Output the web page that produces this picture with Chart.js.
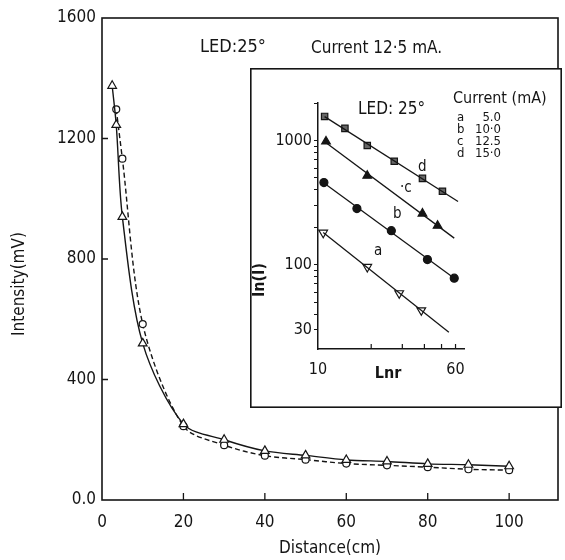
<!DOCTYPE html>
<html>
<head>
<meta charset="utf-8">
<script src="https://cdn.jsdelivr.net/npm/chart.js@4.4.1/dist/chart.umd.min.js"></script>
<style>
  body { margin: 0; background: #fff; }
  #wrap { position: relative; width: 565px; height: 560px; overflow: hidden; }
  #main { position: absolute; left: 0; top: 0; }
  #inset { position: absolute; left: 250px; top: 68px; background: #fff; }
</style>
</head>
<body>
<div id="wrap">
  <canvas id="main" width="565" height="560"></canvas>
  <canvas id="inset" width="312" height="340"></canvas>
</div>
<script>
// main plot: intensity vs distance (LED 25 deg, 12.5 mA)
const triDist = [2.5, 3.5, 5, 10, 20, 30, 40, 50, 60, 70, 80, 90, 100];
const triVal  = [1375, 1245, 940, 520, 252, 200, 163, 148, 133, 128, 120, 117, 112];
const circDist = [3.5, 5, 10, 20, 30, 40, 50, 60, 70, 80, 90, 100];
const circVal  = [1297, 1133, 584, 245, 182, 147, 134, 121, 115, 109, 102, 99];
const xTicks = [0, 20, 40, 60, 80, 100];
const yTicks = [0, 400, 800, 1200, 1600];
const yTickLabels = ['0.0', '400', '800', '1200', '1600'];

// inset: log-log, one series per current
const rA = [10.7, 19.0, 28.8, 38.4];        const iA = [181, 96, 59, 43];
const rB = [10.8, 16.6, 26.0, 41.6, 59.0];  const iB = [458, 283, 188, 110, 78];
const rC = [11.1, 19.0, 39.0, 47.5];        const iC = [980, 520, 258, 206];
const rD = [10.9, 14.2, 19.0, 27.0, 39.0, 50.6]; const iD = [1560, 1250, 910, 680, 495, 390];
const fitEnd = [55, 59, 59, 62]; // a, b, c, d
const currents = [['a', '5.0'], ['b', '10·0'], ['c', '12.5'], ['d', '15·0']];
const insetXTicks = [10, 20, 30, 40, 50, 60];
const insetXLabels = [10, 60];
const insetYTicks = [30, 40, 50, 60, 70, 80, 90, 100, 200, 300, 400, 500, 600, 700, 800, 900, 1000, 2000];
const insetYLabels = [30, 100, 1000];

const FONT = "'DejaVu Sans Condensed', 'DejaVu Sans', sans-serif";
const INK = '#151515';
Chart.defaults.font.family = FONT;
Chart.defaults.color = INK;

const pts = (xs, ys) => xs.map((x, i) => ({ x: x, y: ys[i] }));

function fitLine(rs, is, rEnd) {
  const lx = rs.map(Math.log10), ly = is.map(Math.log10);
  const mx = lx.reduce((a, b) => a + b) / lx.length;
  const my = ly.reduce((a, b) => a + b) / ly.length;
  let sxy = 0, sxx = 0;
  lx.forEach((v, i) => { sxy += (v - mx) * (ly[i] - my); sxx += (v - mx) * (v - mx); });
  const m = sxy / sxx, b = my - m * mx;
  const at = r => Math.pow(10, b + m * Math.log10(r));
  return [{ x: rs[0], y: at(rs[0]) }, { x: rEnd, y: at(rEnd) }];
}

function txt(ctx, s, x, y, size, align, weight) {
  ctx.save();
  ctx.fillStyle = INK;
  ctx.font = (weight || '') + ' ' + size + 'px ' + FONT;
  ctx.textAlign = align || 'left';
  ctx.textBaseline = 'middle';
  ctx.fillText(s, x, y);
  ctx.restore();
}

function vtxt(ctx, s, x, y, size, weight) {
  ctx.save();
  ctx.translate(x, y);
  ctx.rotate(-Math.PI / 2);
  txt(ctx, s, 0, 0, size, 'center', weight);
  ctx.restore();
}

// frame, inward ticks and labels for the main plot
const mainDeco = {
  id: 'mainDeco',
  afterDraw(chart) {
    const { ctx, chartArea: a, scales: { x, y } } = chart;
    ctx.save();
    ctx.strokeStyle = INK;
    ctx.lineWidth = 1.6;
    ctx.strokeRect(a.left, a.top, a.right - a.left, a.bottom - a.top);
    ctx.lineWidth = 1.3;
    ctx.beginPath();
    xTicks.slice(1).forEach(v => {
      const px = x.getPixelForValue(v);
      ctx.moveTo(px, a.bottom); ctx.lineTo(px, a.bottom - 7);
    });
    yTicks.slice(1, -1).forEach(v => {
      const py = y.getPixelForValue(v);
      ctx.moveTo(a.left, py); ctx.lineTo(a.left + 6, py);
    });
    ctx.stroke();
    ctx.restore();
    txt(ctx, 'LED:25°', 200, 47, 18);
    txt(ctx, 'Current 12·5 mA.', 311, 49, 17);
    txt(ctx, 'Distance(cm)', (a.left + a.right) / 2, 549, 17, 'center');
    vtxt(ctx, 'Intensity(mV)', 20, 284, 17);
  }
};

const lineStyle = {
  showLine: true,
  borderColor: INK,
  borderWidth: 1.4,
  tension: 0.3,
  pointBackgroundColor: '#fff',
  pointBorderColor: INK,
  pointBorderWidth: 1.2
};

new Chart(document.getElementById('main'), {
  type: 'scatter',
  data: {
    datasets: [
      Object.assign({ label: 'triangles', data: pts(triDist, triVal), pointStyle: 'triangle', pointRadius: 5 }, lineStyle),
      Object.assign({ label: 'circles', data: pts(circDist, circVal), pointStyle: 'circle', pointRadius: 3.5, borderDash: [5, 3] }, lineStyle)
    ]
  },
  options: {
    responsive: false,
    animation: false,
    layout: { padding: { top: 18, right: 7, left: 0, bottom: 0 } },
    plugins: { legend: { display: false }, tooltip: { enabled: false } },
    scales: {
      x: {
        type: 'linear', min: 0, max: 112,
        afterBuildTicks: s => { s.ticks = xTicks.map(v => ({ value: v })); },
        afterFit: s => { s.height = 60; },
        grid: { display: false, drawTicks: false },
        border: { display: false },
        ticks: { padding: 12, font: { size: 17 }, maxRotation: 0, autoSkip: false }
      },
      y: {
        type: 'linear', min: 0, max: 1600,
        afterBuildTicks: s => { s.ticks = yTicks.map(v => ({ value: v })); },
        afterFit: s => { s.width = 102; },
        grid: { display: false, drawTicks: false },
        border: { display: false },
        ticks: { padding: 6, font: { size: 17 }, autoSkip: false,
                 callback: v => yTickLabels[yTicks.indexOf(v)] }
      }
    }
  },
  plugins: [mainDeco]
});

// inset box, inward x ticks and texts
const insetDeco = {
  id: 'insetDeco',
  afterDraw(chart) {
    const { ctx, chartArea: a, scales: { x } } = chart;
    ctx.save();
    ctx.strokeStyle = INK;
    ctx.lineWidth = 1.6;
    ctx.strokeRect(0.8, 0.8, chart.width - 1.6, chart.height - 1.6);
    ctx.lineWidth = 1.2;
    ctx.beginPath();
    insetXTicks.slice(1).forEach(v => {
      const px = x.getPixelForValue(v);
      ctx.moveTo(px, a.bottom); ctx.lineTo(px, a.bottom - 5);
    });
    ctx.stroke();
    ctx.restore();
    txt(ctx, 'LED: 25°', 108, 42, 17);
    txt(ctx, 'Current (mA)', 203, 31, 16);
    currents.forEach((c, i) => {
      txt(ctx, c[0], 207, 50 + i * 12, 13);
      txt(ctx, c[1], 251, 50 + i * 12, 13, 'right');
    });
    txt(ctx, 'd', 168, 99, 15);
    txt(ctx, '·c', 150, 120, 15);
    txt(ctx, 'b', 143, 146, 15);
    txt(ctx, 'a', 124, 183, 15);
    txt(ctx, 'Lnr', 138, 306, 16, 'center', 'bold');
    vtxt(ctx, 'In(I)', 10, 212, 16, 'bold');
  }
};

const markerStyle = { showLine: false, pointBorderColor: INK, pointBorderWidth: 1.2 };
const fitStyle = { showLine: true, pointRadius: 0, borderColor: INK, borderWidth: 1.3 };

new Chart(document.getElementById('inset'), {
  type: 'scatter',
  data: {
    datasets: [
      Object.assign({ data: fitLine(rA, iA, fitEnd[0]) }, fitStyle),
      Object.assign({ data: fitLine(rB, iB, fitEnd[1]) }, fitStyle),
      Object.assign({ data: fitLine(rC, iC, fitEnd[2]) }, fitStyle),
      Object.assign({ data: fitLine(rD, iD, fitEnd[3]) }, fitStyle),
      Object.assign({ data: pts(rA, iA), pointStyle: 'triangle', rotation: 180, pointRadius: 5, pointBackgroundColor: '#fff' }, markerStyle),
      Object.assign({ data: pts(rB, iB), pointStyle: 'circle', pointRadius: 4, pointBackgroundColor: INK }, markerStyle),
      Object.assign({ data: pts(rC, iC), pointStyle: 'triangle', pointRadius: 5, pointBackgroundColor: INK }, markerStyle),
      Object.assign({ data: pts(rD, iD), pointStyle: 'rect', pointRadius: 4.5, pointBackgroundColor: '#666' }, markerStyle)
    ]
  },
  options: {
    responsive: false,
    animation: false,
    layout: { padding: { top: 35, right: 98, left: 0, bottom: 0 } },
    plugins: { legend: { display: false }, tooltip: { enabled: false } },
    scales: {
      x: {
        type: 'logarithmic', min: 10, max: 67,
        afterBuildTicks: s => { s.ticks = insetXTicks.map(v => ({ value: v })); },
        afterFit: s => { s.height = 59; },
        grid: { display: false, drawTicks: false },
        border: { display: true, width: 1.5, color: INK },
        ticks: { padding: 11, font: { size: 16 }, maxRotation: 0, autoSkip: false,
                 callback: v => insetXLabels.includes(v) ? String(v) : '' }
      },
      y: {
        type: 'logarithmic', min: 21, max: 2000,
        afterBuildTicks: s => { s.ticks = insetYTicks.map(v => ({ value: v })); },
        afterFit: s => { s.width = 68; },
        grid: { display: true, drawOnChartArea: false, drawTicks: true, tickLength: 4, color: INK, lineWidth: 1 },
        border: { display: true, width: 1.5, color: INK },
        ticks: { padding: 2, font: { size: 16 }, autoSkip: false,
                 callback: v => insetYLabels.includes(v) ? String(v) : '' }
      }
    }
  },
  plugins: [insetDeco]
});
</script>
</body>
</html>
